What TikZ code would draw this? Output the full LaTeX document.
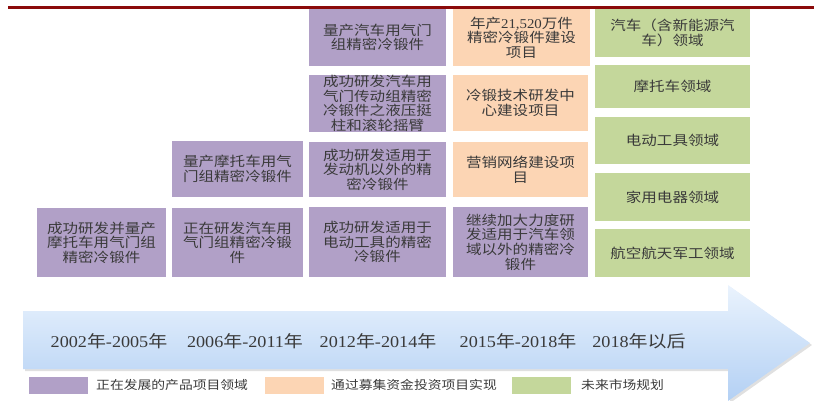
\documentclass[tikz,border=0pt]{standalone}
\usepackage{fontspec}
\newfontfamily\cjk[FakeStretch=1.15]{Noto Sans CJK SC}
\newfontfamily\lat[FakeStretch=1.1]{Liberation Serif}
\definecolor{cpurple}{HTML}{B1A0C7}
\definecolor{corange}{HTML}{FCD5B4}
\definecolor{cgreen}{HTML}{C4D79B}
\definecolor{ctext}{HTML}{3A3A3A}
\definecolor{cred}{HTML}{8B0A0A}
\definecolor{arrtop}{HTML}{EAF3FD}
\definecolor{arrbot}{HTML}{B3D0F4}
\newcommand{\yr}[2]{{\lat #1}{\cjk 年}{\lat #2}}
\tikzset{
  cbox/.style={inner sep=0pt, align=center, text=ctext,
    font=\cjk\fontsize{13.5}{14.6}\selectfont},
  pbox/.style={cbox, fill=cpurple},
  obox/.style={cbox, fill=corange},
  gbox/.style={cbox, fill=cgreen},
  yrlabel/.style={inner sep=0pt, text=ctext, font=\fontsize{16.5}{18}\selectfont},
  swatch/.style={inner sep=0pt, minimum width=59, minimum height=17},
  legtext/.style={inner sep=0pt, anchor=west, text=ctext, font=\cjk\fontsize{12}{14}\selectfont}
}
\begin{document}
\begin{tikzpicture}[x=1pt,y=1pt]
\useasboundingbox (0,0) rectangle (814,-401);
% top rule
\draw[cred, line width=3pt] (8,-7.5) -- (814,-7.5);
% timeline arrow
\fill[black, opacity=0.12] (25,-313) -- (730,-313) -- (730,-287) -- (812,-345) -- (730,-403) -- (730,-371) -- (25,-371) -- cycle;
\shade[top color=arrtop, bottom color=arrbot]
  (23,-311) -- (728,-311) -- (728,-285) -- (810,-343) -- (728,-401) -- (728,-369) -- (23,-369) -- cycle;
% column 1
\node[pbox, minimum width=129, minimum height=69] (c1a) at (101.5,-242.5) {成功研发并量产\\摩托车用气门组\\精密冷锻件};
% column 2
\node[pbox, minimum width=131, minimum height=56] (c2a) at (237.5,-169) {量产摩托车用气\\门组精密冷锻件};
\node[pbox, minimum width=131, minimum height=69] (c2b) at (237.5,-242.5) {正在研发汽车用\\气门组精密冷锻\\件};
% column 3
\node[pbox, minimum width=137, minimum height=57] (c3a) at (377.5,-37.5) {量产汽车用气门\\组精密冷锻件};
\node[pbox, minimum width=137, minimum height=57] (c3b) at (377.5,-103.5) {成功研发汽车用\\气门传动组精密\\冷锻件之液压挺\\柱和滚轮摇臂};
\node[pbox, minimum width=137, minimum height=55] (c3c) at (377.5,-169.5) {成功研发适用于\\发动机以外的精\\密冷锻件};
\node[pbox, minimum width=137, minimum height=70] (c3d) at (377.5,-242) {成功研发适用于\\电动工具的精密\\冷锻件};
% column 4
\node[obox, minimum width=137, minimum height=57] (c4a) at (521.5,-37.5) {年产{\lat 21,520}万件\\精密冷锻件建设\\项目};
\node[obox, minimum width=135, minimum height=56] (c4b) at (520.5,-103) {冷锻技术研发中\\心建设项目};
\node[obox, minimum width=135, minimum height=55] (c4c) at (520.5,-169.5) {营销网络建设项\\目};
\node[pbox, minimum width=135, minimum height=70] (c4d) at (520.5,-242) {继续加大力度研\\发适用于汽车领\\域以外的精密冷\\锻件};
% column 5
\node[gbox, minimum width=155, minimum height=48] (g1) at (672.5,-33) {汽车（含新能源汽\\车）领域};
\node[gbox, minimum width=155, minimum height=43] (g2) at (672.5,-86.5) {摩托车领域};
\node[gbox, minimum width=155, minimum height=47] (g3) at (672.5,-140.5) {电动工具领域};
\node[gbox, minimum width=155, minimum height=48] (g4) at (672.5,-197) {家用电器领域};
\node[gbox, minimum width=155, minimum height=48] (g5) at (672.5,-253) {航空航天军工领域};
% timeline labels
\node[yrlabel] (t1) at (109,-341) {\yr{2002}{-2005}{\cjk 年}};
\node[yrlabel] (t2) at (245,-341) {\yr{2006}{-2011}{\cjk 年}};
\node[yrlabel] (t3) at (378,-341) {\yr{2012}{-2014}{\cjk 年}};
\node[yrlabel] (t4) at (518,-341) {\yr{2015}{-2018}{\cjk 年}};
\node[yrlabel] (t5) at (639,-341) {\yr{2018}{}{\cjk 以后}};
% legend
\node[swatch, fill=cpurple] (l1) at (58.5,-385.5) {};
\node[legtext] (l1t) at (96,-385) {正在发展的产品项目领域};
\node[swatch, fill=corange] (l2) at (294,-385.5) {};
\node[legtext] (l2t) at (331,-385) {通过募集资金投资项目实现};
\node[swatch, fill=cgreen] (l3) at (541.5,-385.5) {};
\node[legtext] (l3t) at (581,-385) {未来市场规划};
\end{tikzpicture}
\end{document}
